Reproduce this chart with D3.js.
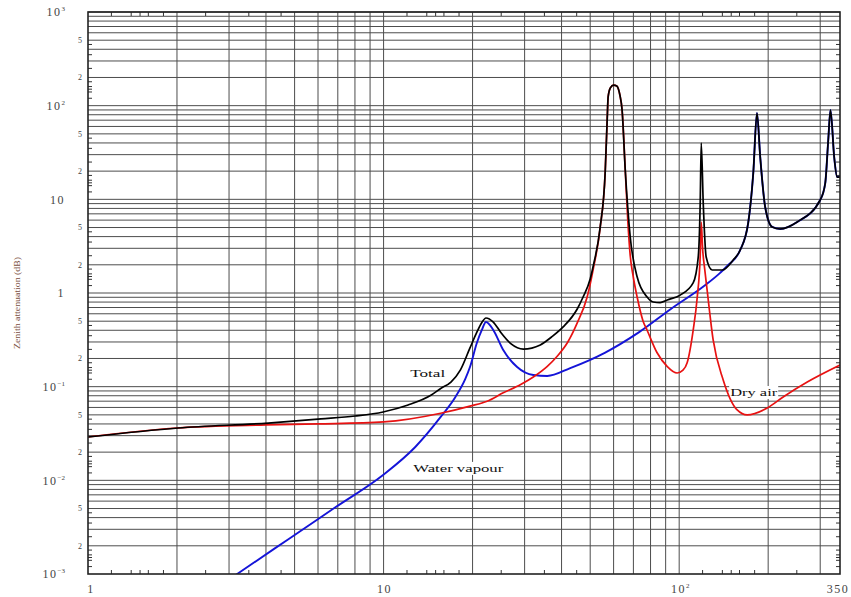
<!DOCTYPE html>
<html><head><meta charset="utf-8">
<script src="https://cdn.jsdelivr.net/npm/d3@7"></script>
<style>html,body{margin:0;padding:0;background:#fff;}svg{display:block;}</style>
</head><body>
<script>
// ---- data (frequency GHz, zenith attenuation dB) ----
const totalFreq = [1,2.02,4.07,6.14,8.01,9.96,12.1,14.5,15.6,16.9,18.2,19.6,20.7,21.5,22.2,23.5,25,27,29.7,33.9,37,40.5,45.2,47.3,50,51.2,54,56.2,57.1,57.5,58.5,60,61.5,63,64.1,65.7,68.3,72.1,77.9,81.7,86.2,91.1,100.8,111.5,116,117.8,118.75,120.6,123.4,129.3,139.8,152.3,160.9,171.2,178.1,183.3,188,195.4,206.4,219.7,250.8,300,312,319.4,325,334.5,342.4,350];
const totalVal  = [0.029,0.0362,0.0409,0.0452,0.0486,0.0537,0.0637,0.0815,0.0957,0.112,0.151,0.259,0.384,0.484,0.541,0.49,0.374,0.286,0.252,0.279,0.339,0.434,0.675,0.906,1.41,1.94,4.94,19.6,73.8,124,155,166,162,130,89.9,20.6,3.96,1.48,0.906,0.802,0.79,0.842,0.95,1.28,2.42,9.14,39.9,9.14,2.42,1.76,1.76,2.25,2.88,5.59,19.1,83.5,28.3,8.28,5.07,4.82,5.73,9.84,14.9,43,89.9,28.3,17.3,17.3];

const dryFreq = [1,2,4,6,10,15.6,19.6,22.4,25.4,29,32.1,35.8,38.6,42,45.2,48.8,51.2,54,56.2,57.1,57.5,58.5,60,61.5,63,64.1,65.7,67,68.3,69.9,72.1,75.5,77.9,84.2,91,98.4,103,106.4,111.5,115.1,117.8,118.75,120,122,124.3,130.3,140.9,157.1,169.9,198.6,224.8,271.2,350];
const dryVal  = [0.029,0.0362,0.039,0.040,0.042,0.052,0.062,0.07,0.086,0.105,0.127,0.165,0.21,0.3,0.48,0.9,1.8,4.9,19.6,73.8,124,155,166,162,130,89.9,20.6,6,2.5,1.5,0.9,0.5,0.4,0.23,0.165,0.14,0.15,0.18,0.4,0.9,2.5,5.7,3,1.8,1.08,0.315,0.118,0.0564,0.0499,0.0592,0.0776,0.112,0.17];

const wvFreq = [3.0,3.27,4.75,6.85,9.96,12.8,15.6,17.5,18.9,19.6,20.7,21.5,22.2,23.5,25.4,28.3,32.1,35.8,42.8,56,73,94,122,137.6,146.5,160.9,171.2,178.1,183.3,188,195.4,206.4,219.7,250.8,300,312,319.4,325,334.5,342.4,350];
const wvVal  = [0.00087,0.00105,0.00234,0.00512,0.0114,0.0227,0.0475,0.0776,0.121,0.162,0.296,0.403,0.49,0.403,0.246,0.162,0.133,0.13,0.158,0.23,0.38,0.68,1.2,1.64,1.99,2.88,5.59,19.1,83.5,28.3,8.28,5.07,4.82,5.73,9.84,14.9,43,89.9,28.3,17.3,17.3];

const xTickValues = [1,10,100,350];
const xTickBase   = ["1","10","10","350"];
const xTickSup    = ["","","2",""];
const yTickValues = [1e-3,1e-2,1e-1,1,10,100,1000];
const yTickBase   = ["10","10","10","1","10","10","10"];
const yTickSup    = ["\u22123","\u22122","\u22121","","","2","3"];
const yMinorLabels = ["2","5"];
const minorTickFactors = [1.2,1.4,1.5,1.6,1.8,2.5,3.5,4.5];

const curveLabels = [
  {text:"Total", f:12.3, v:0.127, w:35},
  {text:"Water vapour", f:12.6, v:0.0123, w:90},
  {text:"Dry air", f:148.8, v:0.0795, w:47}
];
const yTitle = "Zenith attenuation (dB)";

// ---- layout ----
const W = 851, H = 597;
const L = 88, R = 840, T = 12, B = 574;
const svg = d3.select("body").append("svg").attr("width", W).attr("height", H);
const x = d3.scaleLog().domain([1,350]).range([L,R]);
const y = d3.scaleLog().domain([1e-3,1e3]).range([B,T]);

const serif = "'Liberation Serif','DejaVu Serif',serif";
const gridColor = "#4d4d4d";

// grid lines
const xGrid = [];
[1,10,100].forEach(d => { for (let k=1;k<10;k++){ const v=d*k; if (v>1 && v<350) xGrid.push(v);} });
const yGrid = [];
[1e-3,1e-2,1e-1,1,10,100].forEach(d => { for (let k=1;k<10;k++){ const v=d*k; if (v>1e-3) yGrid.push(v);} });
yGrid.push(1000);
svg.append("g").selectAll("line").data(xGrid).join("line")
  .attr("x1", d=>x(d)).attr("x2", d=>x(d)).attr("y1", T).attr("y2", B)
  .attr("stroke", gridColor).attr("stroke-width", 1);
svg.append("g").selectAll("line").data(yGrid).join("line")
  .attr("y1", d=>y(d)).attr("y2", d=>y(d)).attr("x1", L).attr("x2", R)
  .attr("stroke", gridColor).attr("stroke-width", 1);

// minor ticks on all four sides
const xMinor = [], yMinor = [];
[1,10,100].forEach(d => minorTickFactors.forEach(f => { const v=d*f; if (v<350) xMinor.push(v); }));
[1e-3,1e-2,1e-1,1,10,100].forEach(d => minorTickFactors.forEach(f => yMinor.push(d*f)));
const tk = svg.append("g").attr("stroke", "#333").attr("stroke-width", 1);
tk.selectAll(".xb").data(xMinor).join("line").attr("x1",d=>x(d)).attr("x2",d=>x(d)).attr("y1",B).attr("y2",B-4);
tk.selectAll(".xt").data(xMinor).join("line").attr("x1",d=>x(d)).attr("x2",d=>x(d)).attr("y1",T).attr("y2",T+4);
tk.selectAll(".yl").data(yMinor).join("line").attr("y1",d=>y(d)).attr("y2",d=>y(d)).attr("x1",L).attr("x2",L+4);
tk.selectAll(".yr").data(yMinor).join("line").attr("y1",d=>y(d)).attr("y2",d=>y(d)).attr("x1",R).attr("x2",R-4);

// white boxes behind curve labels (interrupt the grid only)
curveLabels.forEach(c => {
  svg.append("rect").attr("x", x(c.f)-1).attr("y", y(c.v)-10).attr("width", c.w+2).attr("height", 13).attr("fill","#fff");
});

// curves
const defs = svg.append("defs");
defs.append("clipPath").attr("id","plotclip").append("rect")
  .attr("x",L).attr("y",T).attr("width",R-L).attr("height",B-T);
const line = d3.line().x(d=>x(d[0])).y(d=>y(d[1])).curve(d3.curveMonotoneX);
const g = svg.append("g").attr("clip-path","url(#plotclip)");
const series = [
  {f: wvFreq, v: wvVal, color: "#1414d8", w: 1.9},
  {f: dryFreq, v: dryVal, color: "#e81212", w: 1.7},
  {f: totalFreq, v: totalVal, color: "#000000", w: 1.7}
];
series.forEach(s => {
  g.append("path").datum(s.f.map((f,i)=>[f,s.v[i]]))
    .attr("d", line).attr("fill","none").attr("stroke", s.color)
    .attr("stroke-width", s.w).attr("stroke-linejoin","round");
});

// curve label texts
curveLabels.forEach(c => {
  svg.append("text").attr("x", x(c.f)).attr("y", y(c.v)).text(c.text)
    .attr("font-family", serif).attr("font-size", 11).attr("fill", "#111")
    .attr("textLength", c.w).attr("lengthAdjust","spacingAndGlyphs");
});

// frame
svg.append("rect").attr("x",L).attr("y",T).attr("width",R-L).attr("height",B-T)
  .attr("fill","none").attr("stroke","#222").attr("stroke-width",1.6);

// y tick labels
const labColor = "#444";
yTickValues.forEach((v,i) => {
  const t = svg.append("text").attr("x", 65).attr("y", y(v)).attr("dy","0.35em")
    .attr("text-anchor","end").attr("font-family", serif).attr("font-size", 12)
    .attr("fill", labColor).attr("letter-spacing", 1.5);
  t.append("tspan").text(yTickBase[i]);
  if (yTickSup[i]) t.append("tspan").attr("dy", -5).attr("font-size", 7).attr("letter-spacing", 0).text(yTickSup[i]);
});
// y minor labels 2, 5
[1e-3,1e-2,1e-1,1,10,100].forEach(d => {
  yMinorLabels.forEach(m => {
    svg.append("text").attr("x", 80).attr("y", y(d*(+m))).attr("dy","0.35em")
      .attr("text-anchor","middle").attr("font-family", serif).attr("font-size", 8)
      .attr("fill", labColor).text(m);
  });
});
// x tick labels
xTickValues.forEach((v,i) => {
  const t = svg.append("text").attr("x", x(v) + (i===0 ? 3 : (i===3 ? -2 : 1))).attr("y", 593)
    .attr("text-anchor","middle").attr("font-family", serif).attr("font-size", 12)
    .attr("fill", labColor).attr("letter-spacing", 1.5);
  t.append("tspan").text(xTickBase[i]);
  if (xTickSup[i]) t.append("tspan").attr("dy", -5).attr("font-size", 7).attr("letter-spacing", 0).text(xTickSup[i]);
});

// y axis title
svg.append("text").attr("transform", `translate(20,${(T+B)/2 + 10}) rotate(-90)`)
  .attr("text-anchor","middle").attr("font-family", serif).attr("font-size", 9)
  .attr("fill", "#7a4e3e").attr("textLength", 92).attr("lengthAdjust","spacingAndGlyphs")
  .text(yTitle);
</script>
</body></html>
